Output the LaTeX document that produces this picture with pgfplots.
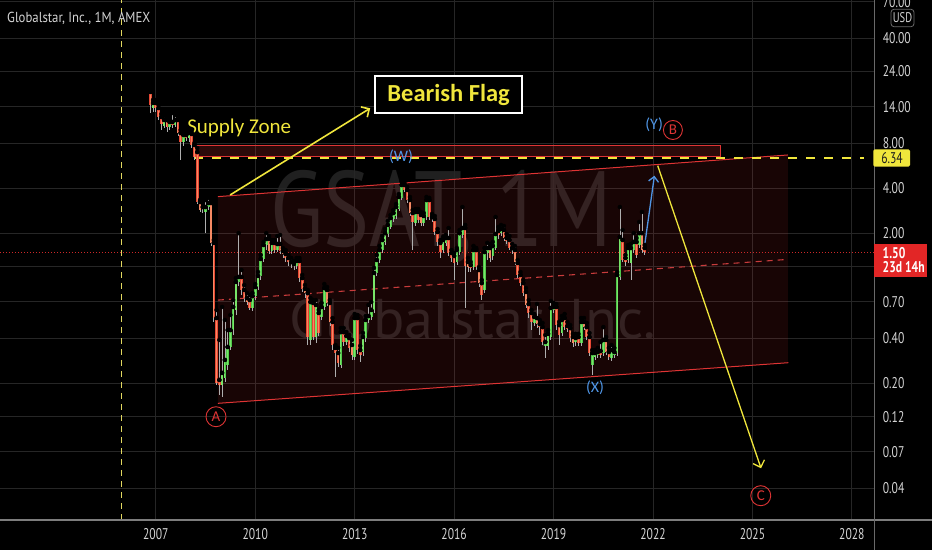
\documentclass[border=0pt]{standalone}
\usepackage{fontspec}
\setmainfont{PT Sans}
\newfontfamily\carl{Carlito}
\usepackage{graphicx}
\usepackage{pgfplots}
\pgfplotsset{compat=1.18}
\usepackage{pgfplotstable}
\usetikzlibrary{arrows.meta}

\definecolor{gridc}{RGB}{38,38,38}
\definecolor{upc}{RGB}{80,200,75}
\definecolor{upin}{RGB}{120,230,105}
\definecolor{dnc}{RGB}{232,72,52}
\definecolor{dnin}{RGB}{246,138,100}
\definecolor{wick}{RGB}{175,175,175}
\definecolor{tvred}{RGB}{222,52,52}
\definecolor{tvyel}{RGB}{240,230,60}
\definecolor{tvblue}{RGB}{80,150,230}
\definecolor{txt}{RGB}{212,212,212}
\definecolor{wm}{RGB}{32,32,32}
\definecolor{sepc}{RGB}{105,105,105}
\definecolor{boxred}{RGB}{226,38,38}
\definecolor{vdash}{RGB}{225,215,95}

\newcommand\ticfont{\fontsize{15.5}{17}\selectfont}
\newcommand\cond[1]{\scalebox{0.75}[1]{#1}}

% monthly high / low (month index 0 = Nov 2006)
\pgfplotstableread{
i H L
0 18.09 12.70
1 15.51 12.91
2 15.51 12.91
3 14.37 11.41
4 12.51 9.79
5 12.13 10.09
6 11.95 9.49
7 11.76 9.79
8 12.70 10.09
9 12.32 10.25
10 11.76 8.93
11 9.79 6.18
12 9.49 7.66
13 9.64 8.27
14 9.79 8.14
15 9.49 7.42
16 8.02 6.18
17 7.42 3.14
18 3.34 2.78
19 3.19 2.74
20 3.34 2.01
21 3.45 2.87
22 3.34 1.65
23 1.81 0.514
24 0.618 0.195
25 0.390 0.168
26 0.647 0.163
27 0.530 0.205
28 0.454 0.246
29 0.572 0.334
30 0.720 0.421
31 1.009 0.572
32 2.01 0.892
33 1.141 0.777
34 0.906 0.698
35 0.801 0.667
36 0.777 0.618
37 0.801 0.609
38 0.920 0.720
39 1.107 0.840
40 1.437 0.979
41 1.755 1.291
42 2.01 1.551
43 1.924 1.459
44 1.809 1.459
45 1.809 1.482
46 1.924 1.504
47 1.953 1.459
48 1.599 1.372
49 1.551 1.291
50 1.437 1.214
51 1.372 1.176
52 1.311 1.141
53 1.372 1.159
54 1.372 0.950
55 1.057 0.815
56 0.906 0.742
57 0.840 0.361
58 0.742 0.361
59 0.720 0.390
60 0.720 0.372
61 0.618 0.415
62 0.688 0.530
63 0.920 0.618
64 0.879 0.657
65 0.720 0.483
66 0.546 0.334
67 0.361 0.221
68 0.345 0.257
69 0.468 0.253
70 0.468 0.356
71 0.440 0.361
72 0.421 0.324
73 0.390 0.287
74 0.581 0.287
75 0.572 0.315
76 0.356 0.278
77 0.434 0.305
78 0.563 0.378
79 0.667 0.506
80 0.698 0.530
81 1.176 0.590
82 1.437 1.041
83 1.650 1.271
84 1.924 1.482
85 2.142 1.675
86 2.422 1.894
87 2.655 2.142
88 2.867 2.385
89 3.14 2.497
90 3.665 2.824
91 4.43 3.342
92 4.34 3.78
93 4.08 3.19
94 3.50 2.615
95 2.867 1.551
96 2.91 2.243
97 2.91 2.348
98 2.78 2.243
99 2.737 2.243
100 3.50 2.459
101 3.45 2.459
102 2.696 2.385
103 2.615 1.953
104 2.142 1.650
105 1.809 1.372
106 1.894 1.482
107 1.953 1.650
108 2.174 1.415
109 1.551 1.291
110 1.482 0.979
111 1.599 1.232
112 2.109 1.437
113 3.00 1.865
114 2.277 0.637
115 1.372 1.107
116 1.291 1.107
117 1.650 1.141
118 1.599 1.141
119 1.195 0.879
120 0.979 0.720
121 1.599 0.801
122 1.73 1.331
123 1.701 1.291
124 1.755 1.331
125 2.575 1.551
126 2.209 1.837
127 2.277 1.924
128 2.243 1.782
129 1.983 1.701
130 1.924 1.551
131 1.701 1.459
132 1.650 1.232
133 1.331 1.009
134 1.107 0.892
135 0.979 0.765
136 0.865 0.637
137 0.720 0.546
138 0.618 0.454
139 0.581 0.483
140 0.677 0.468
141 0.530 0.421
142 0.506 0.361
143 0.421 0.296
144 0.454 0.334
145 0.709 0.390
146 0.688 0.590
147 0.677 0.454
148 0.514 0.361
149 0.563 0.415
150 0.581 0.454
151 0.514 0.440
152 0.490 0.378
153 0.428 0.350
154 0.428 0.356
155 0.428 0.356
156 0.546 0.356
157 0.546 0.454
158 0.506 0.390
159 0.434 0.305
160 0.334 0.228
161 0.334 0.287
162 0.345 0.296
163 0.378 0.296
164 0.475 0.305
165 0.408 0.310
166 0.345 0.287
167 0.361 0.283
168 0.345 0.296
169 1.107 0.305
170 3.00 0.979
171 2.109 1.291
172 1.437 1.214
173 1.675 1.271
174 1.701 0.979
175 2.01 1.482
176 1.865 1.372
177 2.385 1.599
178 2.78 1.482
179 1.675 1.437
}\wicks

% rising months: open, close
\pgfplotstableread{
i O C
1 13.72 14.82
5 10.41 11.41
7 10.25 11.07
9 10.57 11.41
12 8.14 9.07
14 8.66 9.35
19 2.91 3.00
20 2.78 3.00
21 3.00 3.19
26 0.195 0.235
27 0.218 0.287
28 0.265 0.350
29 0.350 0.454
30 0.454 0.647
31 0.618 0.950
32 0.950 1.025
37 0.637 0.765
38 0.765 0.879
39 0.879 1.041
40 1.041 1.352
41 1.352 1.675
42 1.675 1.837
44 1.528 1.73
46 1.551 1.701
53 1.214 1.311
58 0.390 0.698
60 0.408 0.667
62 0.555 0.647
63 0.647 0.865
69 0.265 0.440
71 0.378 0.415
74 0.301 0.546
77 0.324 0.408
78 0.402 0.530
79 0.530 0.563
80 0.555 0.618
81 0.618 1.090
82 1.090 1.331
83 1.331 1.551
84 1.551 1.809
85 1.755 2.01
86 1.983 2.277
87 2.209 2.535
88 2.497 2.737
89 2.615 3.00
90 2.91 3.50
91 3.45 4.208
96 2.348 2.78
99 2.348 2.615
100 2.575 3.342
106 1.551 1.809
107 1.73 1.865
111 1.291 1.551
112 1.504 2.01
113 1.953 2.174
117 1.195 1.551
121 0.840 1.504
122 1.482 1.599
124 1.415 1.650
125 1.599 1.983
127 2.01 2.142
139 0.506 0.555
143 0.356 0.378
144 0.356 0.428
145 0.408 0.637
146 0.618 0.647
149 0.434 0.530
154 0.378 0.402
156 0.372 0.514
160 0.265 0.319
161 0.301 0.319
162 0.310 0.324
164 0.319 0.390
167 0.296 0.334
168 0.310 0.324
169 0.319 1.057
170 1.025 1.894
173 1.331 1.599
174 1.271 1.599
175 1.551 1.755
177 1.675 2.01
}\upcandles

% falling months: open, close
\pgfplotstableread{
i O C
0 17.55 14.37
2 14.82 13.72
3 13.72 11.95
4 11.95 10.73
6 11.41 10.25
8 11.07 10.57
10 11.41 9.35
11 9.35 8.14
13 9.07 8.66
15 9.21 7.78
16 7.78 6.47
17 6.98 3.24
18 3.24 2.87
22 3.19 1.73
23 1.73 0.546
24 0.546 0.201
25 0.211 0.195
33 1.025 0.840
34 0.840 0.742
35 0.742 0.698
36 0.720 0.637
43 1.837 1.528
45 1.73 1.551
47 1.701 1.528
48 1.528 1.459
49 1.459 1.372
50 1.372 1.291
51 1.291 1.251
52 1.251 1.214
54 1.311 1.009
55 1.009 0.853
56 0.853 0.801
57 0.801 0.408
59 0.688 0.408
61 0.590 0.434
64 0.840 0.688
65 0.688 0.514
66 0.514 0.361
67 0.345 0.319
68 0.319 0.274
70 0.440 0.378
72 0.402 0.345
73 0.361 0.310
75 0.546 0.334
76 0.334 0.310
92 4.208 3.897
93 3.897 3.342
94 3.342 2.737
95 2.737 2.385
97 2.78 2.459
98 2.655 2.348
101 3.342 2.575
102 2.575 2.497
103 2.497 2.046
104 2.046 1.755
105 1.73 1.504
108 1.865 1.482
109 1.482 1.372
110 1.415 1.271
114 2.174 1.214
115 1.291 1.195
116 1.232 1.176
118 1.551 1.195
119 1.141 0.934
120 0.934 0.777
123 1.599 1.372
126 2.077 1.953
128 2.109 1.865
129 1.865 1.782
130 1.809 1.599
131 1.599 1.551
132 1.551 1.291
133 1.271 1.057
134 1.057 0.934
135 0.934 0.801
136 0.815 0.667
137 0.677 0.590
138 0.590 0.514
140 0.546 0.498
141 0.498 0.475
142 0.475 0.378
147 0.647 0.490
148 0.490 0.421
150 0.546 0.475
151 0.483 0.461
152 0.468 0.402
153 0.408 0.372
155 0.408 0.372
157 0.514 0.475
158 0.475 0.408
159 0.408 0.319
163 0.329 0.310
165 0.390 0.324
166 0.324 0.301
171 1.809 1.331
172 1.372 1.291
176 1.755 1.437
178 2.01 1.551
179 1.599 1.50
}\dncandles

\begin{document}
\begin{tikzpicture}
\fill[black] (0,0) rectangle (932pt,550pt);
% watermark
\node[anchor=base west, inner sep=0pt, text=wm, font=\fontsize{107}{110}\selectfont, xscale=0.81] at (270pt,303.3pt) {GSAT, 1M};
\node[anchor=base west, inner sep=0pt, text=wm, font=\fontsize{56}{58}\selectfont, xscale=1.04] at (289pt,212pt) {Globalstar, Inc.};

\begin{axis}[
  at={(0pt,30pt)}, anchor=south west,
  scale only axis, width=874pt, height=520pt,
  xmin=-54.4, xmax=262, ymin=0.02458, ymax=72, ymode=log,
  axis line style={draw=none},
  major tick length=0pt,
  tick style={draw=none},
  xtick={2,38,74,110,146,182,218,254},
  xticklabels={2007,2010,2013,2016,2019,2022,2025,2028},
  ytick={0.04,0.07,0.12,0.2,0.4,0.7,1.2,2,4,8,14,24,40,70},
  yticklabels={0.04,0.07,0.12,0.20,0.40,0.70,{},2.00,4.00,8.00,14.00,24.00,40.00,70.00},
  yticklabel pos=right,
  grid=major, grid style={gridc, line width=1pt},
  xticklabel style={font=\ticfont, text=txt, anchor=center, inner sep=0pt, yshift=-14.3pt, xscale=0.75},
  yticklabel style={font=\ticfont, text=txt, anchor=west, inner sep=0pt, xshift=8.7pt, xscale=0.75},
  clip=true,
]
% channel
\addplot[draw=none, fill=tvred, fill opacity=0.11] coordinates {(24.5,3.52) (230.8,6.67) (230.8,0.275) (24.5,0.1474)} -- cycle;
\addplot[tvred, line width=1pt] coordinates {(24.5,3.52) (230.8,6.67)};
\addplot[tvred, line width=1pt] coordinates {(24.5,0.1474) (231,0.275)};
\addplot[color={rgb,255:red,200;green,60;blue,60}, line width=1.1pt, dash pattern=on 6pt off 5pt] coordinates {(24.5,0.719) (230.8,1.343)};
% vertical dashed line
\addplot[vdash, line width=1pt, dash pattern=on 6pt off 5pt] coordinates {(-10.3,0.0246) (-10.3,72)};
% 1.50 dotted line
\addplot[color={rgb,255:red,205;green,40;blue,40}, line width=0.7pt, dash pattern=on 1pt off 2pt] coordinates {(-54.4,1.5) (262,1.5)};
% supply zone
\addplot[draw=tvred, line width=0.9pt, fill=tvred, fill opacity=0.2] coordinates {(15.9,6.5) (206.4,6.5) (206.4,7.78) (15.9,7.78)} -- cycle;
\addplot[tvyel, line width=1.8pt, dash pattern=on 9pt off 9pt] coordinates {(15.9,6.34) (258.4,6.34)};

% candles: wicks
\addplot[only marks, mark=none, forget plot, error bars/.cd, y dir=minus, y explicit, error mark=none, error bar style={line width=0.65pt, wick}] table[x=i, y=H, y error expr=\thisrow{H}-\thisrow{L}] {\wicks};
% bodies up (outline, then fill)
\addplot[only marks, mark=none, forget plot, error bars/.cd, y dir=minus, y explicit, error mark=none, error bar style={line width=2.6pt, upc}] table[x=i, y=C, y error expr=\thisrow{C}-\thisrow{O}] {\upcandles};
\addplot[only marks, mark=none, forget plot, error bars/.cd, y dir=minus, y explicit, error mark=none, error bar style={line width=1.2pt, upin}] table[x=i, y=C, y error expr=\thisrow{C}-\thisrow{O}] {\upcandles};
% bodies down (outline, then fill)
\addplot[only marks, mark=none, forget plot, error bars/.cd, y dir=minus, y explicit, error mark=none, error bar style={line width=2.6pt, dnc}] table[x=i, y=O, y error expr=\thisrow{O}-\thisrow{C}] {\dncandles};
\addplot[only marks, mark=none, forget plot, error bars/.cd, y dir=minus, y explicit, error mark=none, error bar style={line width=1.2pt, dnin}] table[x=i, y=O, y error expr=\thisrow{O}-\thisrow{C}] {\dncandles};

% arrows
\addplot[tvyel, line width=1.6pt, -{Straight Barb[length=6pt,width=12pt]}] coordinates {(28.9,3.609) (79.6,13.66)};
\addplot[tvblue, line width=1.3pt, -{Straight Barb[length=5pt,width=10pt]}] coordinates {(178.9,1.632) (182.5,4.85)};
\addplot[tvyel, line width=1.3pt, -{Straight Barb[length=6pt,width=12pt]}] coordinates {(183.7,5.66) (221.1,0.0544)};

% labels
\node[text=tvyel, font=\carl\fontsize{21}{23}\selectfont] at (axis cs:32.2,10.1) {Supply Zone};
\node[draw=white, line width=1.6pt, fill=black, text=tvyel, font=\carl\bfseries\fontsize{24.5}{26}\selectfont, minimum width=147pt, minimum height=37pt, inner sep=0pt] at (axis cs:108.0,16.83) {Bearish Flag};
\node[text=tvblue, font=\carl\fontsize{16}{18}\selectfont] at (axis cs:90.8,6.47) {(W)};
\node[text=tvblue, font=\carl\fontsize{16}{18}\selectfont] at (axis cs:182.4,10.57) {(Y)};
\node[text=tvblue, font=\carl\fontsize{16}{18}\selectfont] at (axis cs:161,0.1866) {(X)};
\node[draw=tvred, circle, line width=0.9pt, inner sep=0pt, minimum size=19pt, text=tvred, font=\carl\fontsize{15}{17}\selectfont] at (axis cs:189.2,9.79) {B};
\node[draw=tvred, circle, line width=0.9pt, inner sep=0pt, minimum size=20pt, text=tvred, font=\carl\fontsize{15}{17}\selectfont] at (axis cs:23.8,0.120) {A};
\node[draw=tvred, circle, line width=0.9pt, inner sep=0pt, minimum size=20pt, text=tvred, font=\carl\fontsize{15}{17}\selectfont] at (axis cs:221,0.0357) {C};
\end{axis}

% separators
\draw[color={rgb,255:red,125;green,125;blue,125}, line width=1.3pt] (0,30pt) -- (932pt,30pt);
\draw[sepc, line width=1pt] (874pt,0) -- (874pt,550pt);

% title
\node[anchor=west, inner sep=0pt, text=txt, font=\fontsize{14.5}{16}\selectfont] at (7pt,532pt) {\scalebox{0.88}[1]{Globalstar, Inc., 1M, AMEX}};
% USD
\node[draw=sepc, rounded corners=3pt, line width=0.8pt, minimum width=23pt, minimum height=17.4pt, inner sep=0pt, text=txt, font=\fontsize{14}{15}\selectfont] at (902.5pt,532pt) {\cond{USD}};
% 6.34 box
\fill[tvyel, rounded corners=1.5pt] (873.3pt,383.3pt) rectangle (910pt,400.7pt);
\node[text={rgb,255:red,30;green,30;blue,30}, font=\ticfont, inner sep=0pt] at (892pt,392pt) {\cond{6.34}};
% 1.50 box
\fill[boxred] (874pt,273.3pt) rectangle (926.7pt,305.7pt);
\node[anchor=west, text=white, font=\ticfont\bfseries, inner sep=0pt] at (882.5pt,297.3pt) {\cond{1.50}};
\node[anchor=west, text=white, font=\ticfont\bfseries, inner sep=0pt] at (882.5pt,282.7pt) {\cond{23d 14h}};

\pgfresetboundingbox
\path[use as bounding box] (0,0) rectangle (932pt,550pt);
\end{tikzpicture}
\end{document}
